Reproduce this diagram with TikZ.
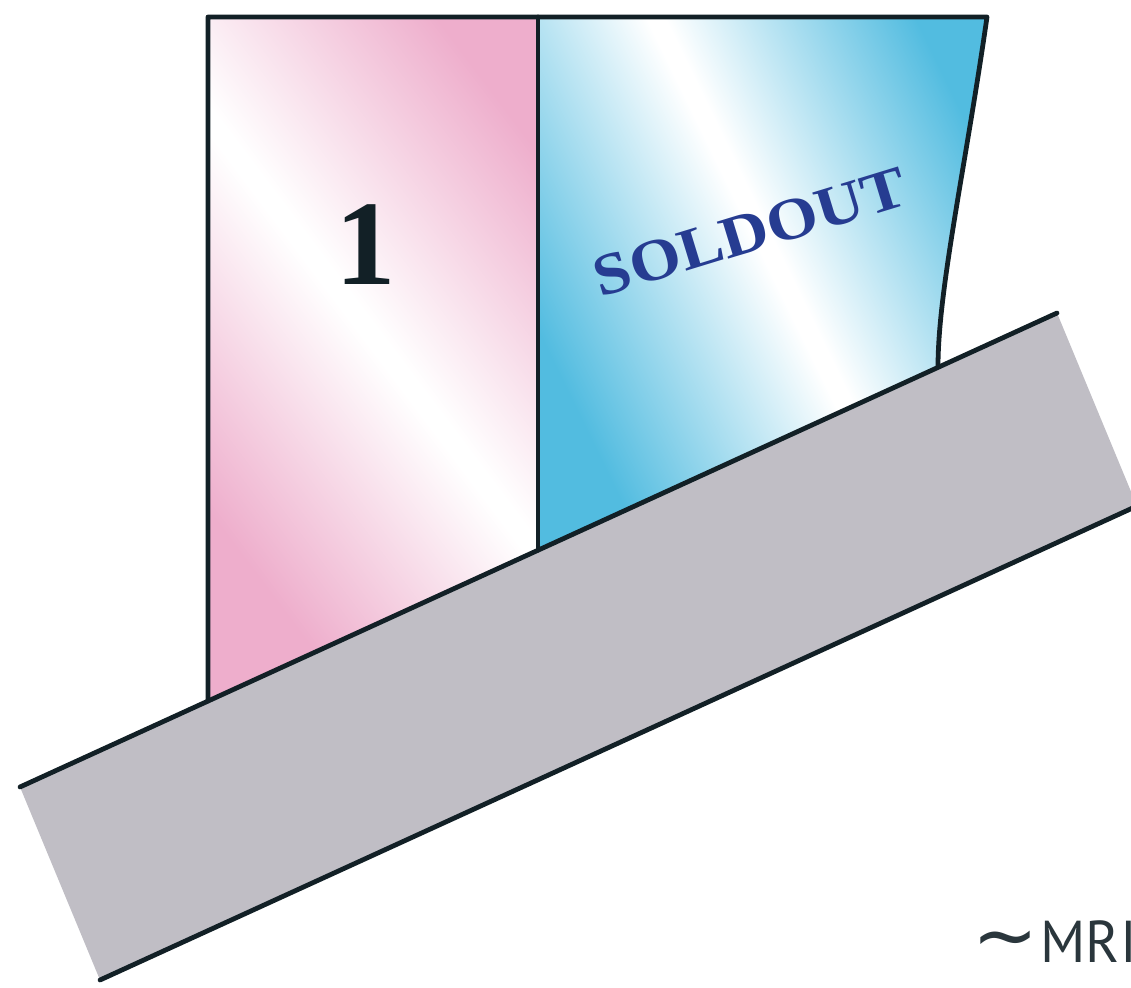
\documentclass[tikz,border=0pt]{standalone}
\usepackage{fontspec}
\newfontfamily\serifb{Liberation Serif}
\newfontfamily\labelsans{PT Sans}
\newfontfamily\symfont{DejaVu Sans}
\definecolor{pinkC}{RGB}{238,174,204}
\definecolor{blueC}{RGB}{82,188,224}
\definecolor{roadC}{RGB}{192,190,197}
\definecolor{inkC}{RGB}{18,32,38}
\definecolor{textB}{RGB}{38,60,145}
\pgfdeclarehorizontalshading{pinkstreak}{100bp}{color(0bp)=(pinkC); color(36bp)=(pinkC); color(50.3bp)=(white); color(51.3bp)=(white); color(66bp)=(pinkC); color(100bp)=(pinkC)}
\pgfdeclarehorizontalshading{bluestreak}{100bp}{color(0bp)=(blueC); color(36bp)=(blueC); color(50.8bp)=(white); color(51.8bp)=(white); color(66bp)=(blueC); color(100bp)=(blueC)}
\tikzset{
  outline/.style={draw=inkC, line width=3.4pt, line cap=round, line join=round},
}
\begin{document}
\begin{tikzpicture}[x=0.025cm,y=-0.025cm]
\useasboundingbox (0,0) rectangle (1131,987);
\clip (0,0) rectangle (1131,987);
% key points
\coordinate (P1) at (20,787);
\coordinate (P2) at (1057,313);
\coordinate (Q1) at (100,980);
\coordinate (Q2) at (1137,506);
\coordinate (A) at (208,17);
\coordinate (B) at (538,17);
\coordinate (C) at (987,17);
\coordinate (D) at (938,367);
\coordinate (E) at (538,550);
\coordinate (F) at (208,701);
% road band
\fill[roadC] (P1) -- (P2) -- (Q2) -- (Q1) -- cycle;
% pink panel
\begin{scope}
  \clip (A) -- (B) -- (E) -- (F) -- cycle;
  \shade[shading=pinkstreak, shading angle=37] (-27,-42) rectangle (773,758);
\end{scope}
% blue panel
\begin{scope}
  \clip (B) -- (C) .. controls (965,170) and (938,290) .. (D) -- (E) -- cycle;
  \shade[shading=bluestreak, shading angle=26] (362,-117) rectangle (1162,683);
\end{scope}
% outlines
\draw[outline] (F) -- (A) -- (C) .. controls (965,170) and (938,290) .. (D);
\draw[outline] (B) -- (E);
\draw[outline] (P1) -- (P2);
\draw[outline] (Q1) -- (Q2);
% texts
\node[inner sep=0, text=inkC, font=\serifb\bfseries\fontsize{86}{88}\selectfont] (one) at (366,245) {1};
\node[inner sep=0, rotate=17, text=textB, font=\serifb\bfseries\fontsize{42}{44}\selectfont] (sold) at (750,232) {\scalebox{1.12}[1]{SOLDOUT}};
\node[inner sep=0, anchor=base west, text=inkC!90] (mri) at (972,962) {{\symfont\fontsize{56}{56}\selectfont ∼}\hspace{0.06cm}{\labelsans\fontsize{42}{42}\selectfont\scalebox{0.97}[1]{MRI}}};
\end{tikzpicture}
\end{document}
